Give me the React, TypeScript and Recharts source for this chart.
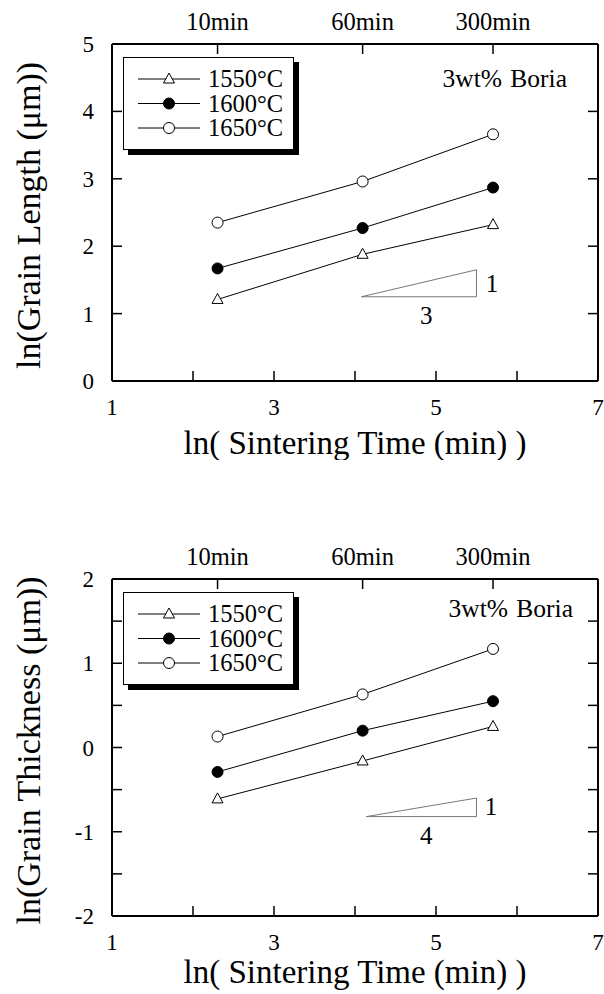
import React from 'react';
import {
  ComposedChart,
  Line,
  XAxis,
  YAxis,
  Legend,
  ReferenceLine,
  ReferenceDot,
} from 'recharts';

// sintering times, top axis
const minutes = [10, 60, 300];
const minuteLabels = ['10min', '60min', '300min'];
const lnTime = [2.303, 4.094, 5.704];

const temps = ['1550°C', '1600°C', '1650°C'];

// ln(grain length), one list per temperature
const length1550 = [1.21, 1.88, 2.32];
const length1600 = [1.67, 2.27, 2.87];
const length1650 = [2.35, 2.96, 3.66];

// ln(grain thickness)
const thick1550 = [-0.61, -0.16, 0.25];
const thick1600 = [-0.29, 0.2, 0.55];
const thick1650 = [0.13, 0.63, 1.17];

const lengthTicks = [0, 1, 2, 3, 4, 5];
const thickTicks = [-2, -1.5, -1, -0.5, 0, 0.5, 1, 1.5, 2];
const bottomTicks = [1, 2, 3, 4, 5, 6, 7];

// slope triangles [x, y] corners, and their labels
const lengthSlope = [[4.08, 1.25], [5.5, 1.25], [5.5, 1.65]];
const lengthSlopeText = [{ x: 5.69, y: 1.45, t: '1' }, { x: 4.88, y: 0.98, t: '3' }];
const thickSlope = [[4.14, -0.82], [5.5, -0.82], [5.5, -0.6]];
const thickSlopeText = [{ x: 5.68, y: -0.7, t: '1' }, { x: 4.88, y: -1.035, t: '4' }];

const FONT = '"Liberation Serif", "Times New Roman", serif';
const W = 604;
const H = 460;
const PLOT_TOP = 44;
const PLOT_BOTTOM = 381;
const LEFT_W = 60;
const TOP_H = 30;
const BOTTOM_H = 40;
const RIGHT_W = 6;
const kinds = ['triangle', 'filled', 'open'];

const Marker = ({ cx, cy, kind }: { cx: number; cy: number; kind: string }) => {
  if (kind === 'triangle') {
    return (
      <path
        d={`M${cx},${cy - 6}L${cx - 5.5},${cy + 4}L${cx + 5.5},${cy + 4}Z`}
        fill="#fff"
        stroke="#000"
        strokeWidth={1}
      />
    );
  }
  return <circle cx={cx} cy={cy} r={5.5} fill={kind === 'filled' ? '#000' : '#fff'} stroke="#000" strokeWidth={1} />;
};

const tickText = { fontFamily: FONT, fontSize: 23, fill: '#000' };

const LeftTick = (props: any) => {
  const { x, y, payload } = props;
  const v = payload.value;
  return (
    <g>
      <line x1={x} x2={x + 10} y1={y} y2={y} stroke="#000" strokeWidth={1.5} />
      {Number.isInteger(v) && (
        <text x={x - 18} y={y} dy="0.35em" textAnchor="end" {...tickText}>
          {v}
        </text>
      )}
    </g>
  );
};

const RightTick = (props: any) => {
  const { x, y } = props;
  return <line x1={x} x2={x - 10} y1={y} y2={y} stroke="#000" strokeWidth={1.5} />;
};

const BottomTick = (props: any) => {
  const { x, y, payload } = props;
  const v = payload.value;
  return (
    <g>
      <line x1={x} x2={x} y1={y} y2={y - 10} stroke="#000" strokeWidth={1.5} />
      {v % 2 === 1 && (
        <text x={x} y={y + 34} textAnchor="middle" {...tickText}>
          {v}
        </text>
      )}
    </g>
  );
};

const TopTick = (props: any) => {
  const { x, y, payload } = props;
  const i = lnTime.indexOf(payload.value);
  return (
    <g>
      <line x1={x} x2={x} y1={y} y2={y + 10} stroke="#000" strokeWidth={1.5} />
      <text x={x} y={y - 14} textAnchor="middle" {...tickText} fontSize={24.5}>
        {minuteLabels[i]}
      </text>
    </g>
  );
};

const LegendBox = () => (
  <div
    style={{
      width: 171,
      height: 93,
      border: '1.5px solid #000',
      boxShadow: '5px 5px 0 #000',
      background: '#fff',
      boxSizing: 'border-box',
    }}
  >
    <svg width={168} height={90} style={{ display: 'block' }}>
      {temps.map((t, i) => {
        const cy = 21 + i * 24.5;
        return (
          <g key={t}>
            <line x1={14} x2={76} y1={cy} y2={cy} stroke="#000" strokeWidth={1} />
            <Marker cx={45} cy={cy} kind={kinds[i]} />
            <text x={84} y={cy + 8} fontFamily={FONT} fontSize={24.5} fill="#000">
              {t}
            </text>
          </g>
        );
      })}
    </svg>
  </div>
);

interface PanelProps {
  series: number[][];
  yDomain: [number, number];
  yTicks: number[];
  yTitle: string;
  slope: number[][];
  slopeText: { x: number; y: number; t: string }[];
  noteX: number;
  noteY: number;
  titleDy: number;
}

const axisLine = { stroke: '#000', strokeWidth: 2 };

const Panel = ({ series, yDomain, yTicks, yTitle, slope, slopeText, noteX, noteY, titleDy }: PanelProps) => {
  const rows = lnTime.map((x, i) => ({
    x,
    minutes: minutes[i],
    s0: series[0][i],
    s1: series[1][i],
    s2: series[2][i],
  }));
  const edges = [
    [slope[0], slope[1]],
    [slope[1], slope[2]],
    [slope[0], slope[2]],
  ];
  const mid = (PLOT_TOP + PLOT_BOTTOM) / 2;

  return (
    <ComposedChart
      width={W}
      height={H}
      data={rows}
      margin={{
        top: PLOT_TOP - TOP_H,
        right: 598 - (W - RIGHT_W) + 0,
        bottom: H - PLOT_BOTTOM - BOTTOM_H,
        left: 112 - LEFT_W,
      }}
    >
      <XAxis
        xAxisId="bottom"
        dataKey="x"
        type="number"
        domain={[1, 7]}
        ticks={bottomTicks}
        interval={0}
        allowDataOverflow
        height={BOTTOM_H}
        tickSize={0}
        tickMargin={0}
        tick={BottomTick}
        axisLine={axisLine}
      />
      <XAxis
        xAxisId="top"
        dataKey="x"
        orientation="top"
        type="number"
        domain={[1, 7]}
        ticks={lnTime}
        interval={0}
        allowDataOverflow
        height={TOP_H}
        tickSize={0}
        tickMargin={0}
        tick={TopTick}
        axisLine={axisLine}
      />
      <YAxis
        yAxisId="left"
        type="number"
        domain={yDomain}
        ticks={yTicks}
        interval={0}
        allowDataOverflow
        width={LEFT_W}
        tickSize={0}
        tickMargin={0}
        tick={LeftTick}
        axisLine={axisLine}
      />
      <YAxis
        yAxisId="right"
        orientation="right"
        type="number"
        domain={yDomain}
        ticks={yTicks}
        interval={0}
        allowDataOverflow
        width={RIGHT_W}
        tickSize={0}
        tickMargin={0}
        tick={RightTick}
        axisLine={axisLine}
      />
      {edges.map((e, i) => (
        <ReferenceLine
          key={`edge-${i}`}
          xAxisId="bottom"
          yAxisId="left"
          segment={[
            { x: e[0][0], y: e[0][1] },
            { x: e[1][0], y: e[1][1] },
          ]}
          stroke="#777"
          strokeWidth={1}
        />
      ))}
      {slopeText.map((s) => (
        <ReferenceDot
          key={`st-${s.t}`}
          xAxisId="bottom"
          yAxisId="left"
          x={s.x}
          y={s.y}
          r={0}
          fill="none"
          stroke="none"
          label={{ value: s.t, position: 'center', fontSize: 25, fill: '#000', fontFamily: FONT }}
        />
      ))}
      {/* invisible series so the top axis has data of its own */}
      <Line
        xAxisId="top"
        yAxisId="right"
        dataKey="s0"
        stroke="none"
        dot={false}
        activeDot={false}
        legendType="none"
        isAnimationActive={false}
      />
      {['s0', 's1', 's2'].map((k, i) => (
        <Line
          key={k}
          xAxisId="bottom"
          yAxisId="left"
          dataKey={k}
          name={temps[i]}
          type="linear"
          stroke="#000"
          strokeWidth={1}
          isAnimationActive={false}
          dot={(p: any) => <Marker key={`${k}-${p.index}`} cx={p.cx} cy={p.cy} kind={kinds[i]} />}
          activeDot={false}
        />
      ))}
      <Legend
        layout="vertical"
        align="center"
        verticalAlign="middle"
        content={() => <LegendBox />}
        wrapperStyle={{ left: 123, top: 57, width: 176, height: 98 }}
      />
      <text x={noteX} y={noteY} textAnchor="end" fontFamily={FONT} fontSize={25.5} fill="#000" wordSpacing={2}>
        3wt% Boria
      </text>
      <text
        transform={`translate(40, ${mid + 3}) rotate(-90)`}
        textAnchor="middle"
        fontFamily={FONT}
        fontSize={34}
        fill="#000"
      >
        {yTitle}
      </text>
      <text x={355} y={PLOT_BOTTOM + titleDy} textAnchor="middle" fontFamily={FONT} fontSize={33} fill="#000">
        ln( Sintering Time (min) )
      </text>
    </ComposedChart>
  );
};

export default function App() {
  return (
    <div style={{ position: 'absolute', left: 0, top: 0, width: 604, height: 994, overflow: 'hidden', background: '#fff' }}>
      <div style={{ position: 'absolute', left: 0, top: 0 }}>
        <Panel
          series={[length1550, length1600, length1650]}
          yDomain={[0, 5]}
          yTicks={lengthTicks}
          yTitle="ln(Grain Length (μm))"
          slope={lengthSlope}
          slopeText={lengthSlopeText}
          noteX={567}
          noteY={87}
          titleDy={73}
        />
      </div>
      <div style={{ position: 'absolute', left: 0, top: 535 }}>
        <Panel
          series={[thick1550, thick1600, thick1650]}
          yDomain={[-2, 2]}
          yTicks={thickTicks}
          yTitle="ln(Grain Thickness (μm))"
          slope={thickSlope}
          slopeText={thickSlopeText}
          noteX={573}
          noteY={82}
          titleDy={67}
        />
      </div>
    </div>
  );
}
